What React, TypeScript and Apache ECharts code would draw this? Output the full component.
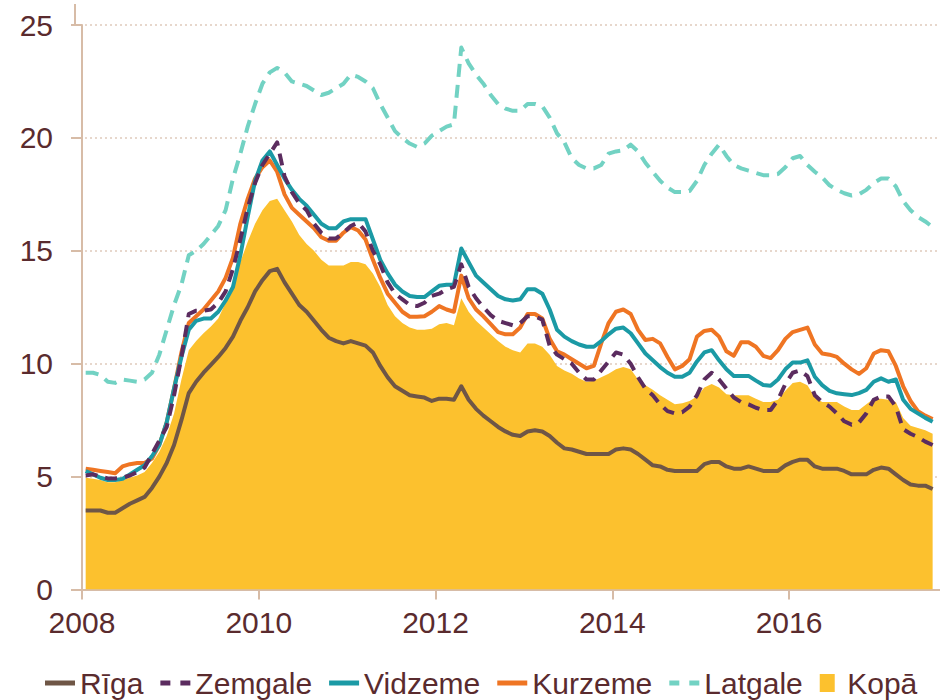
import React, { useEffect, useRef } from "react";
import * as echarts from "echarts";

// Monthly data, January 2008 – August 2017 (116 months)
const START_YEAR = 2008;
const X_TICK_YEARS = [2008, 2010, 2012, 2014, 2016];
const Y_TICKS = [0, 5, 10, 15, 20, 25];

const rigaValues = [
  3.5, 3.5, 3.5, 3.4, 3.4, 3.6, 3.8, 3.95, 4.1, 4.5, 5.0, 5.6,
  6.4, 7.5, 8.7, 9.2, 9.6, 9.95, 10.3, 10.7, 11.2, 11.9, 12.5, 13.2,
  13.7, 14.1, 14.2, 13.6, 13.1, 12.6, 12.3, 11.9, 11.5, 11.15, 11.0, 10.9,
  11.0, 10.9, 10.8, 10.5, 9.9, 9.4, 9.0, 8.8, 8.6, 8.55, 8.5, 8.35,
  8.45, 8.45, 8.4, 9.0, 8.4, 8.0, 7.7, 7.45, 7.2, 7.0, 6.85, 6.8,
  7.0, 7.05, 7.0, 6.8, 6.5, 6.25, 6.2, 6.1, 6.0, 6.0, 6.0, 6.0,
  6.2, 6.25, 6.2, 6.0, 5.75, 5.5, 5.45, 5.3, 5.25, 5.25, 5.25, 5.25,
  5.55, 5.65, 5.65, 5.45, 5.35, 5.35, 5.45, 5.35, 5.25, 5.25, 5.25, 5.5,
  5.65, 5.75, 5.75, 5.45, 5.35, 5.35, 5.35, 5.25, 5.1, 5.1, 5.1, 5.3,
  5.4, 5.35, 5.1, 4.85, 4.65, 4.6, 4.6, 4.45,
];

const zemgaleValues = [
  5.05, 5.1, 5.0, 4.92, 4.92, 4.95, 5.05, 5.2, 5.4, 6.0, 6.6, 7.2,
  8.6, 10.3, 12.2, 12.35, 12.35, 12.4, 12.7, 13.2, 14.2, 15.5, 16.9, 18.0,
  18.8, 19.3, 19.8, 18.3, 17.6, 17.1, 16.8, 16.2, 15.8, 15.55, 15.55, 15.8,
  16.1, 16.25, 15.85, 15.0, 14.4, 13.6, 13.1, 12.85, 12.6, 12.55, 12.7, 13.0,
  13.1, 13.3, 13.4, 14.4, 13.4, 12.9, 12.5, 12.15, 11.9, 11.8, 11.7, 11.8,
  12.1, 12.1, 11.95, 10.8, 10.4, 10.2, 10.0, 9.6, 9.3, 9.3, 9.7, 10.1,
  10.5, 10.4, 10.0, 9.4, 8.9, 8.6, 8.2, 7.9, 7.8, 7.85, 8.1, 8.6,
  9.3, 9.6, 9.3, 8.9, 8.5, 8.3, 8.2, 8.05, 7.95, 7.95, 8.4, 9.1,
  9.6, 9.7, 9.45, 8.6, 8.3, 8.1, 7.8, 7.45, 7.3, 7.4, 7.8, 8.4,
  8.55, 8.55, 8.1, 7.1, 6.9, 6.75, 6.55, 6.4,
];

const vidzemeValues = [
  5.25, 5.1, 4.95, 4.85, 4.85, 4.9, 5.1, 5.3, 5.5, 5.9, 6.4, 7.4,
  8.9, 10.3, 11.5, 11.9, 12.0, 12.0, 12.3, 12.8, 13.4, 14.8, 16.5, 18.1,
  19.0, 19.4, 18.8, 18.2, 17.7, 17.3, 17.0, 16.6, 16.2, 16.0, 16.0, 16.3,
  16.4, 16.4, 16.4, 15.5, 14.6, 14.0, 13.5, 13.2, 13.0, 12.95, 12.95, 13.2,
  13.45, 13.5, 13.5, 15.1, 14.5, 13.9, 13.6, 13.3, 13.0, 12.85, 12.8, 12.85,
  13.3, 13.3, 13.1, 12.4, 11.5, 11.2, 11.0, 10.85, 10.75, 10.75, 11.0, 11.3,
  11.55, 11.6, 11.35, 10.9, 10.45, 10.15, 9.85, 9.6, 9.42, 9.42, 9.6, 10.1,
  10.5, 10.6, 10.15, 9.75, 9.46, 9.46, 9.46, 9.25, 9.06, 9.02, 9.3, 9.75,
  10.05, 10.05, 10.15, 9.42, 9.05, 8.8, 8.69, 8.65, 8.61, 8.7, 8.84, 9.2,
  9.35, 9.2, 9.3, 8.4, 8.0, 7.8, 7.6, 7.43,
];

const kurzemeValues = [
  5.35, 5.3, 5.25, 5.2, 5.15, 5.45, 5.55, 5.6, 5.6, 5.8, 6.4, 7.4,
  8.9, 10.5, 11.8, 12.1, 12.4, 12.8, 13.2, 13.8, 14.7, 16.2, 17.3, 18.2,
  18.7, 19.0, 18.5, 17.5, 16.9, 16.6, 16.3, 16.0, 15.6, 15.45, 15.45, 15.8,
  16.05, 15.9, 15.5, 14.6, 13.8, 13.1, 12.7, 12.3, 12.08, 12.08, 12.1, 12.3,
  12.55, 12.4, 12.3, 13.9, 12.9, 12.4, 12.1, 11.75, 11.4, 11.3, 11.3, 11.6,
  12.2, 12.2, 12.0, 11.1, 10.55, 10.4, 10.2, 10.0, 9.8, 9.9, 10.9, 11.8,
  12.3, 12.4, 12.2, 11.5, 11.05, 11.1, 10.9, 10.3, 9.75, 9.9, 10.2, 11.2,
  11.45, 11.5, 11.2, 10.55, 10.35, 10.95, 10.95, 10.75, 10.35, 10.25, 10.6, 11.1,
  11.4, 11.5, 11.6, 10.85, 10.45, 10.4, 10.3, 10.0, 9.75, 9.55, 9.8, 10.45,
  10.6, 10.55, 9.9, 9.0, 8.35, 7.9, 7.7, 7.55,
];

const latgaleValues = [
  9.6, 9.6, 9.5, 9.2, 9.15, 9.3, 9.25, 9.2, 9.3, 9.6, 10.4, 11.5,
  12.6, 13.5, 14.8, 15.0, 15.3, 15.7, 16.1, 16.8, 18.2, 19.3, 20.5, 21.5,
  22.4, 22.9, 23.1, 22.9, 22.5, 22.4, 22.3, 22.1, 21.9, 22.0, 22.2, 22.4,
  22.8, 22.7, 22.5, 22.2, 21.5, 20.9, 20.3, 20.0, 19.75, 19.6, 19.75, 20.1,
  20.3, 20.5, 20.6, 24.0, 23.3, 22.8, 22.4, 21.9, 21.5, 21.3, 21.2, 21.2,
  21.5, 21.5, 21.4, 20.9, 20.2, 19.8, 19.1, 18.8, 18.65, 18.65, 18.8, 19.3,
  19.4, 19.45, 19.7, 19.4, 18.9, 18.5, 18.1, 17.8, 17.6, 17.6, 17.65, 18.1,
  18.8, 19.3, 19.7, 19.2, 18.8, 18.65, 18.55, 18.45, 18.35, 18.35, 18.4, 18.7,
  19.1, 19.2, 18.8, 18.5, 18.25, 17.9, 17.7, 17.55, 17.45, 17.5, 17.7, 18.0,
  18.2, 18.2, 17.85, 17.2, 16.8, 16.5, 16.3, 16.05,
];

const kopaValues = [
  4.95, 4.9, 4.85, 4.75, 4.75, 4.85, 4.95, 5.05, 5.2, 5.6, 6.1, 6.8,
  7.8, 9.3, 10.6, 11.0, 11.35, 11.65, 12.0, 12.7, 13.6, 14.5, 15.4, 16.2,
  16.8, 17.2, 17.3, 16.8, 16.3, 15.7, 15.3, 15.0, 14.6, 14.35, 14.35, 14.35,
  14.5, 14.5, 14.4, 14.0, 13.4, 12.6, 12.1, 11.8, 11.6, 11.5, 11.5, 11.55,
  11.75, 11.8, 11.7, 12.9, 12.3, 11.9, 11.6, 11.3, 11.0, 10.75, 10.6, 10.5,
  10.9, 10.9, 10.75, 10.4, 9.9, 9.7, 9.55, 9.35, 9.2, 9.25, 9.4, 9.55,
  9.75, 9.85, 9.75, 9.3, 9.05, 8.85, 8.6, 8.4, 8.2, 8.25, 8.35, 8.55,
  8.95, 9.1, 8.95, 8.65, 8.6, 8.6, 8.6, 8.45, 8.3, 8.3, 8.4, 8.8,
  9.15, 9.2, 9.05, 8.5, 8.3, 8.3, 8.3, 8.1, 7.95, 7.95, 8.2, 8.45,
  8.45, 8.4, 8.3, 7.6, 7.25, 7.15, 7.05, 6.9,
];

const SERIES_NAMES = ["Rīga", "Zemgale", "Vidzeme", "Kurzeme", "Latgale", "Kopā"];

const COLORS = {
  riga: "#6f5646",
  zemgale: "#5b2c5f",
  vidzeme: "#1b9aa5",
  kurzeme: "#ef7523",
  latgale: "#72d2c3",
  kopa: "#fcc12e",
};
const TEXT = "#5a2b2e";
const AXIS = "#d7bca7";
const GRID = "#e0cabc";
const FONT = "'Liberation Sans', Arial, sans-serif";

// legend icon shapes
const ICON_SOLID = "path://M0,0L30,0L30,5L0,5Z";
const ICON_DASHED = "path://M0,0L10,0L10,5L0,5Z M20,0L30,0L30,5L20,5Z";
const ICON_SQUARE = "path://M0,0L15,0L15,18L0,18Z";

// month index i -> x position (months since Jan 2008, centred in the month)
const toPairs = (values: number[]) => values.map((v, i) => [i + 0.5, v]);
const yearToMonth = (y: number) => (y - START_YEAR) * 12;

export default function App() {
  const ref = useRef<HTMLDivElement>(null);

  useEffect(() => {
    if (!ref.current) return;
    const chart = echarts.init(ref.current, undefined, { renderer: "svg" });

    const lineSeries = (name: string, values: number[], color: string, dash: any, z: number) => ({
      name,
      type: "line",
      data: toPairs(values),
      symbol: "none",
      smooth: false,
      z,
      itemStyle: { color },
      lineStyle: { color, width: 4, type: dash, cap: "butt", join: "round" },
    });

    const tickMonths = X_TICK_YEARS.map(yearToMonth);

    chart.setOption({
      animation: false,
      textStyle: { fontFamily: FONT },
      grid: { left: 75, right: 0, top: 25, bottom: 110.5, containLabel: false },
      xAxis: {
        type: "value",
        min: -0.95,
        max: 116.5,
        axisLine: { show: true, lineStyle: { color: AXIS, width: 2 } },
        axisTick: {
          show: true,
          length: 10,
          lineStyle: { color: AXIS, width: 2 },
          customValues: tickMonths,
        },
        axisLabel: {
          show: true,
          customValues: tickMonths,
          formatter: (v: number) => String(Math.round(START_YEAR + v / 12)),
          color: TEXT,
          fontSize: 30,
          fontFamily: FONT,
          margin: 18,
        },
        splitLine: { show: false },
      },
      yAxis: {
        type: "value",
        min: Y_TICKS[0],
        max: Y_TICKS[Y_TICKS.length - 1],
        interval: 5,
        axisLine: { show: true, lineStyle: { color: AXIS, width: 2 } },
        axisTick: { show: true, length: 11, lineStyle: { color: AXIS, width: 2 } },
        axisLabel: { color: TEXT, fontSize: 30, fontFamily: FONT, margin: 22 },
        splitLine: { show: true, lineStyle: { color: GRID, width: 1.5, type: [2, 3] } },
      },
      legend: {
        left: 40,
        top: 663,
        itemWidth: 30,
        itemHeight: 18,
        itemGap: 17,
        symbolKeepAspect: true,
        textStyle: { color: TEXT, fontSize: 30, fontFamily: FONT },
        data: [
          { name: SERIES_NAMES[0], icon: ICON_SOLID },
          { name: SERIES_NAMES[1], icon: ICON_DASHED },
          { name: SERIES_NAMES[2], icon: ICON_SOLID },
          { name: SERIES_NAMES[3], icon: ICON_SOLID },
          { name: SERIES_NAMES[4], icon: ICON_DASHED },
          { name: SERIES_NAMES[5], icon: ICON_SQUARE },
        ],
      },
      graphic: [
        {
          type: "line",
          shape: { x1: 75, y1: 4, x2: 75, y2: 26 },
          style: { stroke: AXIS, lineWidth: 2 },
          silent: true,
        },
      ],
      series: [
        {
          name: SERIES_NAMES[5],
          type: "line",
          data: toPairs(kopaValues),
          symbol: "none",
          z: 1,
          itemStyle: { color: COLORS.kopa },
          lineStyle: { width: 0, color: COLORS.kopa },
          areaStyle: { color: COLORS.kopa, opacity: 1 },
        },
        lineSeries(SERIES_NAMES[3], kurzemeValues, COLORS.kurzeme, "solid", 2),
        lineSeries(SERIES_NAMES[2], vidzemeValues, COLORS.vidzeme, "solid", 3),
        lineSeries(SERIES_NAMES[1], zemgaleValues, COLORS.zemgale, [12, 8], 4),
        lineSeries(SERIES_NAMES[0], rigaValues, COLORS.riga, "solid", 5),
        lineSeries(SERIES_NAMES[4], latgaleValues, COLORS.latgale, [13, 8], 6),
      ],
    });

    return () => chart.dispose();
  }, []);

  return (
    <div
      ref={ref}
      style={{ position: "fixed", left: 0, top: 0, width: 940, height: 700, background: "#fff" }}
    />
  );
}
